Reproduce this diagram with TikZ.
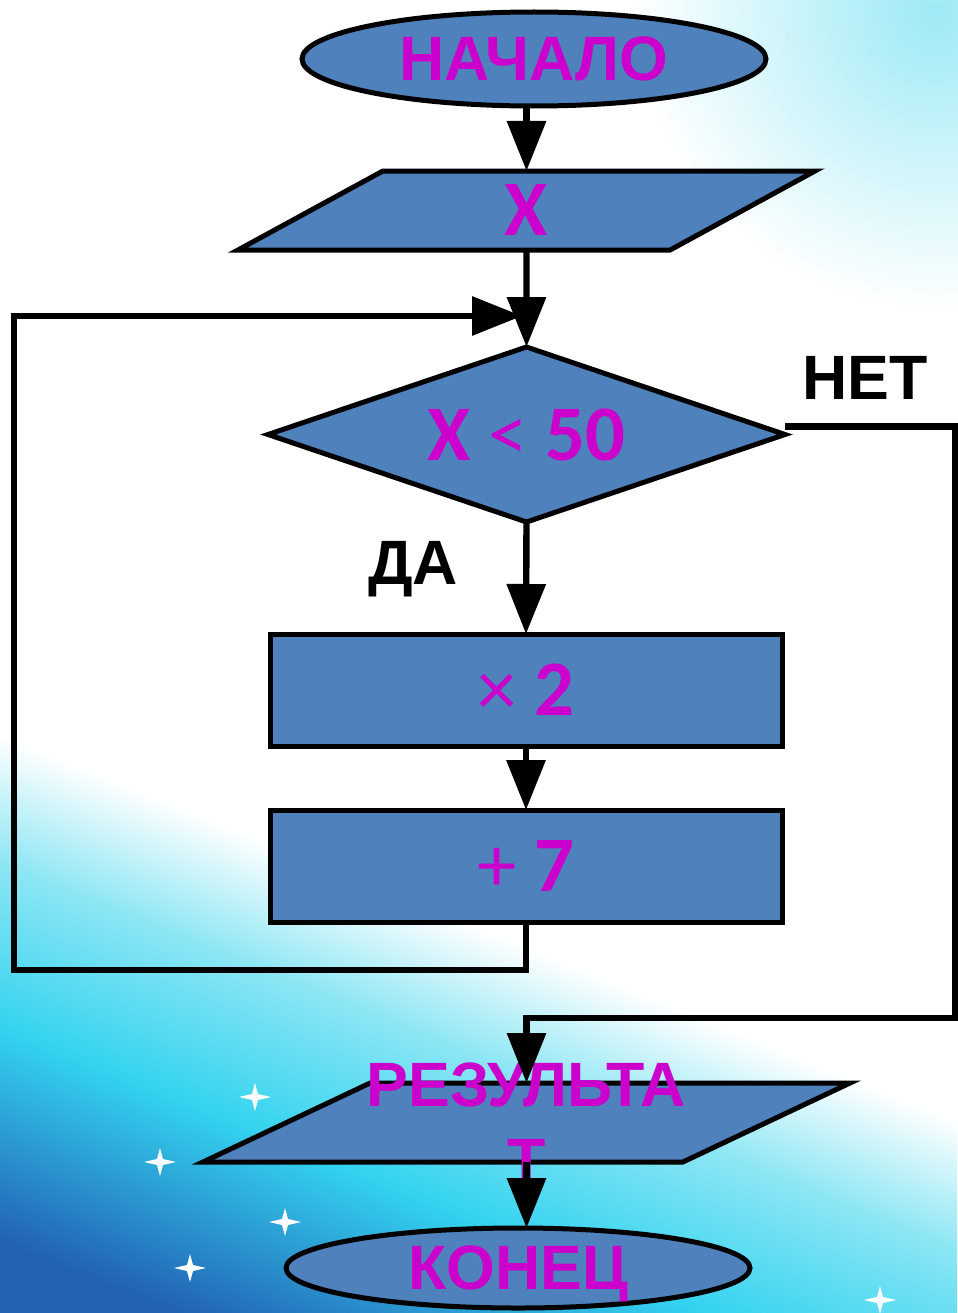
\documentclass[tikz,border=0pt]{standalone}
\usepackage{fontspec}
\setmainfont{Liberation Sans}
\newfontfamily\calfont{Carlito}
\usetikzlibrary{arrows.meta,positioning,shapes.geometric,calc}

\definecolor{boxblue}{HTML}{4F81BD}
\definecolor{txtmag}{HTML}{CC00CC}
\definecolor{deepsea}{HTML}{2262B4}
\definecolor{seacyan}{HTML}{34D3F0}
\definecolor{skycyan}{HTML}{8CE6F4}

\pgfdeclareverticalshading{sea}{100bp}{color(0bp)=(deepsea); color(22bp)=(deepsea); color(35bp)=(seacyan); color(45bp)=(skycyan); color(53bp)=(white); color(100bp)=(white)}

\begin{document}
\begin{tikzpicture}[x=0.75pt,y=-0.75pt,
  block/.style={draw,line width=3.75pt,fill=boxblue,inner sep=0pt,outer sep=0pt,text=txtmag},
  terminal/.style={block,ellipse,minimum width=348pt,text depth=0pt,font=\fontsize{47}{56}\selectfont\bfseries},
  io/.style={block,trapezium,trapezium stretches body,minimum height=59.25pt,
      text height=29.625pt,text depth=29.625pt},
  decision/.style={block,diamond,aspect=2.95,minimum width=387.75pt,minimum height=131.25pt},
  process/.style={block,rectangle,minimum width=384pt,minimum height=84pt},
  digits/.style={font=\calfont\fontsize{59}{68}\selectfont},
  tag/.style={inner sep=0pt,font=\fontsize{47}{57}\selectfont\bfseries},
  flow/.style={line width=4.8pt,-{Triangle[length=37.5pt,width=28.5pt]}}]

    \useasboundingbox (0,0) rectangle (957,1313);

    % background
    \fill[white] (0,0) rectangle (957,1313);
    \shade[inner color=skycyan!85, outer color=white] (935,10) circle (225pt);
    \shade[shading=sea,shading angle=-22] (0,640) rectangle (957,1313);
    \foreach \sx/\sy in {255/1097,160/1162,285/1222,190/1268,880/1300}
        \fill[white] (\sx,\sy) +(0,-14) -- +(3,-3) -- +(16,0) -- +(3,3)
            -- +(0,14) -- +(-3,3) -- +(-16,0) -- +(-3,-3) -- cycle;

    \node[terminal,minimum height=70.5pt] (start) at (534,59) {НАЧАЛО};
    \node[io,digits,trapezium left angle=28.6,trapezium right angle=151.4,
        minimum width=432.75pt,text height=48.6pt,text depth=10.65pt] (inp) at (526.5,210.5) {\bfseries X};
    \node[decision,digits] (dec) at (526.5,434.5) {{\bfseries X} < {\bfseries 50}};
    \node[process,digits] (mul) at (526,690) {× {\bfseries 2}};
    \node[process,digits] (add) at (526,866) {+ {\bfseries 7}};
    \node[io,trapezium left angle=25.3,trapezium right angle=154.7,
        minimum width=485.25pt] (out) at (526.5,1122.5) {};
    \node[tag,text=txtmag,align=center] (outtxt) at (out) {РЕЗУЛЬТА\\Т};
    \node[terminal,minimum height=60pt] (stop) at (518,1268) {КОНЕЦ};

    \node[tag] (yes) at (413,569) {ДА};
    \node[tag] (no) at (865,378) {НЕТ};

    \coordinate (back) at (14,970);
    \coordinate (join) at (522,316);
    \coordinate (rgt) at (955,1018);

    \draw[flow] (start.south -| inp.north) -- (inp.north);
    \draw[flow] (inp.south) -- (dec.north);
    \draw[flow] (dec.south) -- (mul.north);
    \draw[flow] (mul.south) -- (add.north);
    \draw[flow] (add.south) |- (back) |- (join);
    \draw[flow] ([yshift=6pt]dec.east) -| (rgt) -| (out.north);
    \draw[flow] (out.south) -- (stop.north -| out.south);
\end{tikzpicture}
\end{document}
